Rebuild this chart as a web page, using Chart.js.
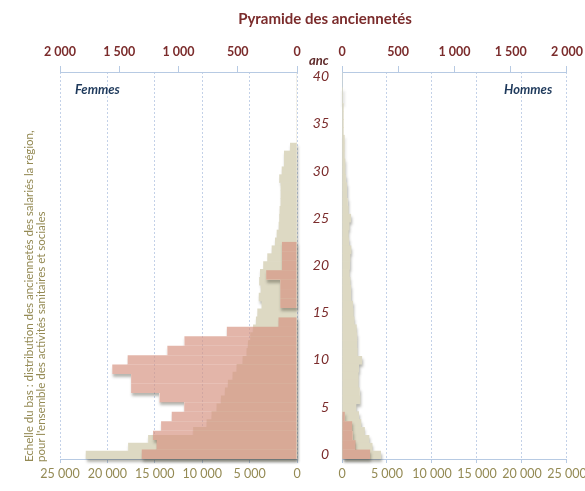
<!DOCTYPE html>
<html><head><meta charset="utf-8">
<script src="https://cdn.jsdelivr.net/npm/chart.js@4.4.1/dist/chart.umd.min.js"></script>
<style>
html,body{margin:0;padding:0;background:#fff;}
#wrap{position:relative;width:585px;height:491px;overflow:hidden;font-family:Lato,"Open Sans",sans-serif;}
canvas{position:absolute;top:0;}
.t{position:absolute;white-space:nowrap;line-height:1;}
#title{left:0;width:650px;top:11px;text-align:center;font-weight:bold;font-size:15px;color:#7B2C2C;}
#anc{left:309px;top:54px;font-weight:bold;font-style:italic;font-size:13px;color:#5E2A2A;}
#fem{left:75px;top:83px;font-weight:bold;font-style:italic;font-size:13px;color:#1F3A5C;}
#hom{left:504px;top:83px;font-weight:bold;font-style:italic;font-size:13px;color:#1F3A5C;}
#cap{position:absolute;left:23px;top:118px;height:344px;width:26px;writing-mode:vertical-rl;transform:rotate(180deg);font-size:11.5px;line-height:12.5px;color:#948A54;white-space:nowrap;}
</style></head><body>
<div id="wrap">
<canvas id="cL" width="310" height="491" style="left:0;width:310px;height:491px"></canvas>
<canvas id="cR" width="290" height="491" style="left:300px;width:290px;height:491px"></canvas>
<div class="t" id="title">Pyramide des anciennetés</div>
<div class="t" id="anc">anc</div>
<div class="t" id="fem">Femmes</div>
<div class="t" id="hom">Hommes</div>
<div id="cap">Echelle du bas : distribution des anciennetés des salariés la région,<br>pour l'ensemble des activités sanitaires et sociales</div>
</div>
<script>
// Categories (ancienneté, years)
const ancEtab = [0,1,2,3,4,5,6,7,8,9,10,11,12,13,14,15,16,17,18,19,20,21,22,23,24,25,26,27,28,29,30,31,32,33,34,35,36,37,38,39,40];
const ancRegion = [0,1,2,3,4,5,6,7,8,9,10,11,12,13,14,15,16,17,18,19,20,21,22,23,24,25,26,27,28,29,30,31,32,33,34,35,36,37,38,39,40,41,42,43,44,45,46,47,48];

// Establishment (top scale, pink)
const femmesEtab = [1310,1185,1215,1147,1057,952,1161,1400,1400,1559,1429,1094,950,592,156,0,141,141,141,260,127,127,127,0,0,0,0,0,0,0,0,0,0,0,0,0,0,0,0,0,0];
const hommesEtab = [250,120,95,90,25,0,0,0,0,0,0,0,0,0,0,0,0,0,0,0,0,0,0,0,0,0,0,0,0,0,0,0,0,0,0,0,0,0,0,0,0];

// Region, sanitary & social activities (bottom scale, beige)
const femmesRegion = [22250,17780,15670,10920,9500,8980,8450,7990,7570,7250,6760,6340,5700,5280,5140,4900,4600,4300,4150,3700,4000,3800,3950,3870,3530,3100,2640,2290,2110,1900,1840,1800,1700,1690,1690,1840,1580,1340,1340,700,0,0,0,0,0,0,0,0,0];
const hommesRegion = [4300,3350,3000,2500,2100,1850,1550,2000,1950,1800,1800,1850,2200,1700,1650,1650,1600,1350,1250,1190,970,970,900,810,850,890,1000,750,700,800,970,700,620,520,520,400,330,330,260,260,260,150,150,150,150,40,40,0,0];

// Tick labels
const topTicks = [0,500,1000,1500,2000];
const bottomTicks = [0,5000,10000,15000,20000,25000];
const ancTicks = [0,5,10,15,20,25,30,35,40];

const rev = a => a.slice().reverse();
const fmt = v => String(v).replace(/\B(?=(\d{3})+(?!\d))/g, ' ');

const BEIGE = '#DDD9C3';
const PINK = 'rgba(214,146,128,0.68)';
const AXIS = '#B7CAE3';
const GRID = '#C3D1E8';
const RED = '#7B2C2C';
const OLIVE = '#948A54';

// outer drop shadow for each dataset (drawn only outside the bars' union)
const shadowPlugin = {
  id: 'barShadow',
  beforeDatasetDraw(chart, args) {
    const ctx = chart.ctx;
    const R = Math.round;
    const rects = args.meta.data.map(el => {
      const p = el.getProps(['x','y','base','height'], true);
      return {l: R(Math.min(p.x, p.base)), r: R(Math.max(p.x, p.base)), t: R(p.y - p.height/2), b: R(p.y + p.height/2)};
    }).filter(r => r.r - r.l > 0);
    if (!rects.length) return;
    ctx.save();
    ctx.beginPath();
    ctx.rect(0, 0, chart.width, chart.height);
    rects.forEach(r => ctx.rect(r.l, r.t, r.r - r.l, r.b - r.t));
    ctx.clip('evenodd');
    const off = 4000;
    ctx.beginPath();
    rects.forEach(r => ctx.rect(r.l - off, r.t, r.r - r.l, r.b - r.t));
    ctx.shadowColor = 'rgba(70,70,55,0.4)';
    ctx.shadowBlur = 3;
    ctx.shadowOffsetX = off + 1;
    ctx.shadowOffsetY = 3;
    ctx.fillStyle = '#000';
    ctx.fill();
    ctx.restore();
  }
};

function xScales(reverse) {
  return {
    xB: {
      type: 'linear', position: 'bottom', reverse, min: 0, max: 25000,
      afterBuildTicks: s => { s.ticks = bottomTicks.map(v => ({value: v})); },
      afterFit: s => { s.height = 22; },
      ticks: {autoSkip: false, color: OLIVE, font: {family: 'Lato', size: 12.5}, padding: 3, maxRotation: 0, callback: v => fmt(v)},
      grid: {color: GRID, lineWidth: 1, drawTicks: true, tickLength: 4, tickColor: AXIS},
      border: {display: true, color: AXIS, dash: [2, 2]}
    },
    xT: {
      type: 'linear', position: 'top', reverse, min: 0, max: 2000,
      afterBuildTicks: s => { s.ticks = topTicks.map(v => ({value: v})); },
      afterFit: s => { s.height = 32; },
      ticks: {autoSkip: false, color: RED, font: {family: 'Lato', size: 12.5, weight: 'bold'}, padding: 7, maxRotation: 0, callback: v => fmt(v)},
      grid: {drawOnChartArea: false, drawTicks: true, tickLength: 6, color: AXIS},
      border: {display: true, color: AXIS}
    }
  };
}

function makeChart(id, region, etab, side) {
  const left = side === 'left';
  const scales = xScales(left);
  scales.yB = {type: 'category', labels: rev(ancRegion), display: false, offset: true};
  const ancRev = rev(ancEtab);
  scales.yP = left ? {type: 'category', labels: ancRev, display: false, offset: true} : {
    type: 'category', labels: ancRev, position: 'left', offset: true,
    afterFit: s => { s.width = 42; },
    ticks: {autoSkip: false, color: RED, padding: 13, font: {family: 'Lato', size: 14, style: 'italic'},
      callback: (v, i) => ancTicks.includes(ancRev[i]) ? String(ancRev[i]) : ''},
    grid: {display: false, drawTicks: false},
    border: {display: true, color: AXIS}
  };
  const barOpts = {barPercentage: 1, categoryPercentage: 1, borderWidth: 0, grouped: false};
  return new Chart(document.getElementById(id), {
    type: 'bar',
    data: {
      datasets: [
        Object.assign({label: 'Région', data: rev(region), xAxisID: 'xB', yAxisID: 'yB', backgroundColor: BEIGE, order: 2}, barOpts),
        Object.assign({label: 'Établissement', data: rev(etab), xAxisID: 'xT', yAxisID: 'yP', backgroundColor: PINK, order: 1, inflateAmount: 0}, barOpts)
      ]
    },
    options: {
      indexAxis: 'y', responsive: false, animation: false, devicePixelRatio: 1,
      layout: {padding: left ? {left: 60, right: 13, top: 40, bottom: 10} : {left: 0, right: 23, top: 40, bottom: 10}},
      plugins: {legend: {display: false}, tooltip: {enabled: false}},
      scales
    },
    plugins: [shadowPlugin]
  });
}

makeChart('cL', femmesRegion, femmesEtab, 'left');
makeChart('cR', hommesRegion, hommesEtab, 'right');
</script>
</body></html>
